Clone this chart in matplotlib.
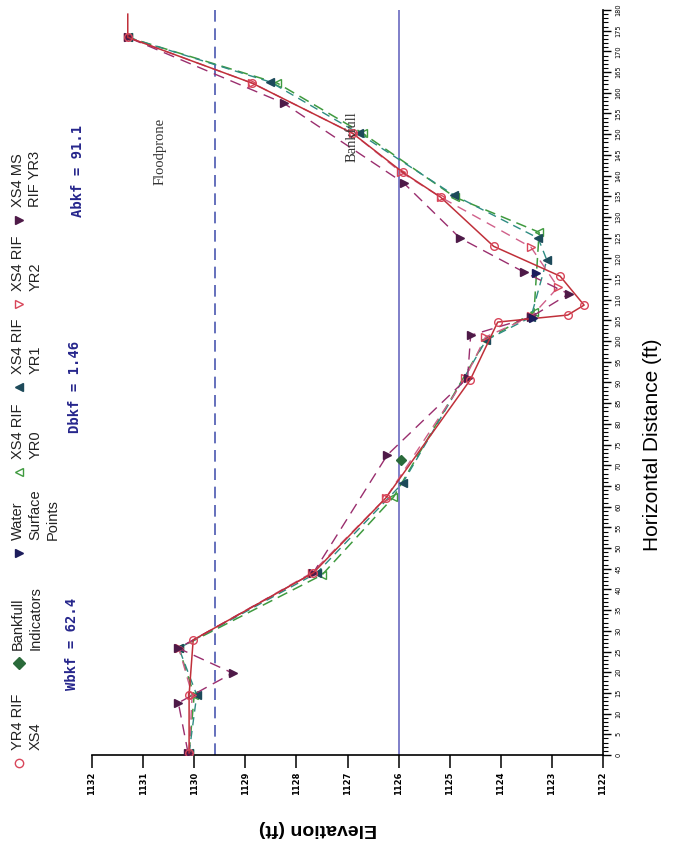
import matplotlib
matplotlib.use("Agg")
import matplotlib.pyplot as plt
from matplotlib.lines import Line2D
import numpy as np

# Cross-section survey, drawn rotated 90 deg (elevation across, distance up)
bankfull_elev = 1126.0
floodprone_elev = 1129.6

# YR4 RIF XS4 (solid red, open circles); last point is the end pin, no marker
dist_yr4 = [0.5, 14.5, 27.8, 44.0, 62.1, 90.6, 104.6, 106.3, 108.7, 115.7, 122.9, 134.8, 140.8, 150.2, 162.3, 173.4, 179.0]
elev_yr4 = [1130.1, 1130.1, 1130.02, 1127.67, 1126.25, 1124.6, 1124.06, 1122.69, 1122.37, 1122.84, 1124.14, 1125.18, 1125.92, 1126.9, 1128.86, 1131.3, 1131.3]

# XS4 RIF YR0 (green dashed, open up-triangles)
dist_yr0 = [0.5, 14.5, 25.8, 43.5, 62.3, 100.2, 107.0, 126.3, 134.8, 150.2, 162.3, 173.4]
elev_yr0 = [1130.1, 1130.0, 1130.3, 1127.5, 1126.1, 1124.3, 1123.35, 1123.25, 1124.9, 1126.7, 1128.37, 1131.3]

# XS4 RIF YR1 (teal dashed, filled up-triangles)
dist_yr1 = [0.5, 14.5, 25.8, 44.0, 65.7, 100.2, 105.8, 119.6, 124.9, 135.3, 150.2, 162.6, 173.4]
elev_yr1 = [1130.1, 1129.95, 1130.3, 1127.6, 1125.92, 1124.29, 1123.41, 1123.1, 1123.27, 1124.92, 1126.78, 1128.51, 1131.3]

# XS4 RIF YR2 (pink dashed, open down-triangles)
dist_yr2 = [0.5, 14.5, 25.8, 44.0, 62.1, 91.0, 101.0, 106.0, 113.0, 122.7, 134.8, 140.8, 150.2, 162.3, 173.4]
elev_yr2 = [1130.1, 1130.04, 1130.3, 1127.7, 1126.25, 1124.7, 1124.3, 1123.4, 1122.88, 1123.41, 1125.18, 1125.95, 1126.9, 1128.86, 1131.3]

# XS4 MS RIF YR3 (purple dashed, filled down-triangles)
dist_yr3 = [0.5, 12.6, 19.8, 25.8, 44.0, 72.5, 91.1, 101.4, 105.8, 111.4, 116.7, 124.9, 138.2, 157.5, 173.4]
elev_yr3 = [1130.12, 1130.31, 1129.25, 1130.31, 1127.67, 1126.22, 1124.65, 1124.59, 1123.41, 1122.67, 1123.55, 1124.80, 1125.9, 1128.25, 1131.3]

# Water surface points and bankfull indicator
dist_ws = [105.6, 116.4]
elev_ws = [1123.37, 1123.31]
dist_bkf = [71.3]
elev_bkf = [1125.96]

legend_labels = ["YR4 RIF\nXS4", "Bankfull\nIndicators", "Water\nSurface\nPoints",
                 "XS4 RIF\nYR0", "XS4 RIF\nYR1", "XS4 RIF\nYR2", "XS4 MS\nRIF YR3"]
stat_labels = ["Wbkf = 62.4", "Dbkf = 1.46", "Abkf = 91.1"]

W, H = 673, 852
fig = plt.figure(figsize=(W / 100, H / 100), dpi=100)

def fx(px):
    return px / W

def fy(py):
    return 1 - py / H

ax = fig.add_axes([fx(92), fy(755), fx(603) - fx(92), fy(10) - fy(755)])

red_line = "#c0303a"
red_mk = "#d8465a"
pink = "#d0608a"
purple = "#9a2e6e"
purple_mk = "#4e1a48"
teal = "#2e8c82"
teal_mk = "#1d4a5a"
green = "#3f9a3f"
navy = "#1c1c5c"

ax.plot(elev_yr0, dist_yr0, color=green, lw=1.1, ls=(0, (7, 4)), marker="<",
        mfc="none", mec=green, ms=6, zorder=3)
ax.plot(elev_yr1, dist_yr1, color=teal, lw=1.0, ls=(0, (6, 4)), marker="<",
        mfc=teal_mk, mec=teal_mk, ms=6, zorder=3)
ax.plot(elev_yr2, dist_yr2, color=pink, lw=1.0, ls=(0, (7, 5)), marker=">",
        mfc="none", mec=red_mk, ms=6, zorder=3)
ax.plot(elev_yr3, dist_yr3, color=purple, lw=1.0, ls=(0, (8, 5)), marker=">",
        mfc=purple_mk, mec=purple_mk, ms=6, zorder=3)
ax.plot(elev_yr4, dist_yr4, color=red_line, lw=1.1, marker="o",
        markevery=list(range(len(dist_yr4) - 1)),
        mfc="none", mec=red_mk, ms=5.5, zorder=4)
ax.plot(elev_ws, dist_ws, ls="none", marker=">", color=navy, ms=6, zorder=5)
ax.plot(elev_bkf, dist_bkf, ls="none", marker="D", color="#2a6a3a", ms=5, zorder=5)

ax.axvline(bankfull_elev, color="#6a6ac0", lw=1.2, zorder=2)
ax.axvline(floodprone_elev, color="#4a58b0", lw=1.2, ls=(0, (7, 4)), zorder=2)

ax.set_xlim(1132, 1122)
ax.set_ylim(0, 180)

for s in ["left", "top"]:
    ax.spines[s].set_visible(False)
ax.spines["bottom"].set_linewidth(1.2)
ax.spines["right"].set_linewidth(1.2)

ax.set_xticks(np.arange(1122, 1133, 1))
ax.set_xticklabels([str(v) for v in range(1122, 1133)], rotation=90, fontsize=6, fontweight="bold")
ax.tick_params(axis="x", direction="out", length=9, width=1.1, pad=3)

ax.yaxis.tick_right()
ax.set_yticks(np.arange(0, 181, 5))
ax.set_yticks(np.arange(0, 181, 1), minor=True)
ax.set_yticklabels([str(v) for v in range(0, 181, 5)], rotation=90, fontsize=4.8, va="center")
ax.tick_params(axis="y", which="major", direction="out", length=6, width=1.0, pad=3)
ax.tick_params(axis="y", which="minor", direction="out", length=3.5, width=0.8)

ax.set_xlabel("Elevation (ft)", fontsize=14, fontweight="bold", rotation=180,
              family="Liberation Sans")
ax.xaxis.set_label_coords((318 - 92) / 511, -(820 - 755) / 745)
ax.yaxis.set_label_position("right")
ax.set_ylabel("Horizontal Distance (ft)", fontsize=15, rotation=90,
              family="Liberation Sans", va="center")
ax.yaxis.set_label_coords((652 - 92) / 511, (755 - 445) / 745)

# annotations on the plot
fig.text(fx(160), fy(185), "Floodprone", rotation=90, rotation_mode="anchor",
         ha="left", va="center", fontsize=10.5, family="Liberation Serif", color="#333333")
fig.text(fx(352), fy(162), "Bankfull", rotation=90, rotation_mode="anchor",
         ha="left", va="center", fontsize=10.5, family="Liberation Serif", color="#333333")

# bankfull stats
stat_pos = [(72, 690), (75, 433), (78, 217)]
for lab, (px, py) in zip(stat_labels, stat_pos):
    fig.text(fx(px), fy(py), lab, rotation=90, rotation_mode="anchor",
             ha="left", va="center", fontsize=10, fontweight="bold",
             family="DejaVu Sans Mono", color="#26268c")

# legend, stacked along the left edge
leg_marks = [("o", "none", red_mk), ("D", "#2a6a3a", "#2a6a3a"), (">", navy, navy),
             ("<", "none", green), ("<", teal_mk, teal_mk), (">", "none", red_mk),
             (">", purple_mk, purple_mk)]
leg_text_y = [750, 650, 540, 459, 374, 291, 207]
for lab, (mk, fc, ec), ty in zip(legend_labels, leg_marks, leg_text_y):
    fig.add_artist(Line2D([fx(19)], [fy(ty + 13)], marker=mk, mfc=fc, mec=ec,
                          ms=6, ls="none", transform=fig.transFigure))
    fig.text(fx(11), fy(ty), lab, rotation=90, rotation_mode="anchor",
             ha="left", va="top", multialignment="left", fontsize=10.5,
             linespacing=1.3, family="Liberation Sans", color="#222222")

plt.savefig("out.png", dpi=100)
